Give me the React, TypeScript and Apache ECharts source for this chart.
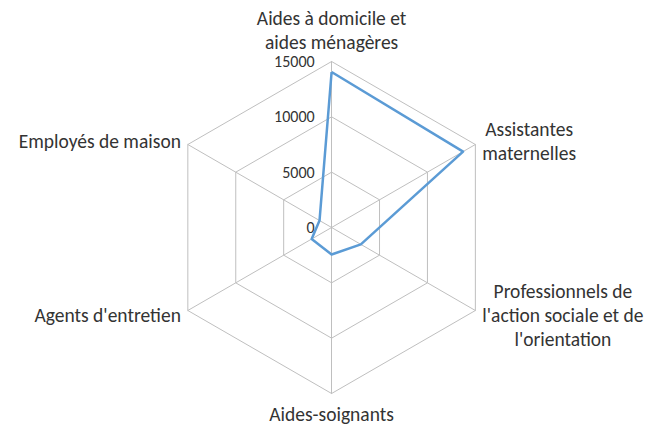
import React, { useEffect, useRef } from "react";
import * as echarts from "echarts";

// Indicators in ECharts order (top, then counter-clockwise)
const categories = [
  "Aides à domicile et\naides ménagères",
  "Employés de maison",
  "Agents d'entretien",
  "Aides-soignants",
  "Professionnels de\nl'action sociale et de\nl'orientation",
  "Assistantes\nmaternelles",
];
const values = [14050, 1260, 2080, 2440, 3050, 13720];
const axisMax = 15000;
const tickStep = 5000;

export default function App() {
  const ref = useRef<HTMLDivElement>(null);
  useEffect(() => {
    document.body.style.margin = "0";
    const chart = echarts.init(ref.current!, null, { renderer: "svg" });
    const font = "Carlito, Lato, 'Noto Sans', sans-serif";
    const txt = "#333333";
    chart.setOption({
      animation: false,
      backgroundColor: "#ffffff",
      radar: {
        center: [331.6, 227.5],
        radius: 166,
        startAngle: 90,
        shape: "polygon",
        splitNumber: axisMax / tickStep,
        nameGap: 8,
        indicator: categories.map((name, i) => ({
          name,
          min: 0,
          max: axisMax,
          ...(i === 0 ? { axisLabel: { show: true } } : {}),
        })),
        axisName: {
          color: txt,
          fontFamily: font,
          fontSize: 19.5,
          lineHeight: 24,
          formatter: (n: string) =>
            n
              .split("\n")
              .map((l) => `{c|${l}}`)
              .join("\n"),
          rich: {
            c: {
              align: "center",
              color: txt,
              fontFamily: font,
              fontSize: 19.5,
              lineHeight: 24,
            },
          },
        },
        axisLabel: {
          show: false,
          color: txt,
          fontFamily: font,
          fontSize: 16,
          margin: 17,
          showMinLabel: true,
          showMaxLabel: true,
          formatter: (v: number) => String(v),
        },
        axisTick: { show: false },
        axisLine: { show: true, lineStyle: { color: "#bfbfbf", width: 1 } },
        splitLine: { show: true, lineStyle: { color: "#bfbfbf", width: 1 } },
        splitArea: { show: false },
      },
      series: [
        {
          type: "radar",
          symbol: "none",
          lineStyle: { color: "#5b9bd5", width: 2.5 },
          itemStyle: { color: "#5b9bd5" },
          data: [{ value: values, name: "Effectifs" }],
        },
      ],
    });
    return () => chart.dispose();
  }, []);
  return <div ref={ref} style={{ width: 648, height: 425 }} />;
}
